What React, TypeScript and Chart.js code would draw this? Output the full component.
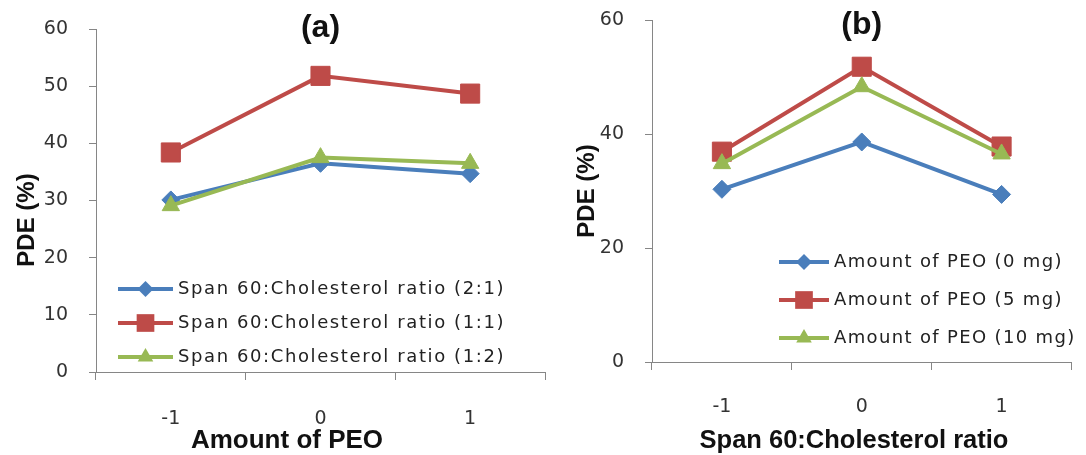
import React, { useEffect, useRef } from 'react';
import { Chart, registerables } from 'chart.js';

Chart.register(...registerables);

// Coded factor levels shared by both panels
const levels = ['-1', '0', '1'];

// Panel (a): PDE (%) against amount of PEO, one line per Span 60:cholesterol ratio
const ratioNames = [
  'Span 60:Cholesterol ratio (2:1)',
  'Span 60:Cholesterol ratio (1:1)',
  'Span 60:Cholesterol ratio (1:2)',
];
const pdeRatio21 = [30.1, 36.5, 34.7];
const pdeRatio11 = [38.4, 51.8, 48.7];
const pdeRatio12 = [29.1, 37.5, 36.5];

// Panel (b): PDE (%) against Span 60:cholesterol ratio, one line per amount of PEO
const peoNames = ['Amount of PEO (0 mg)', 'Amount of PEO (5 mg)', 'Amount of PEO (10 mg)'];
const pdePeo0 = [30.3, 38.6, 29.4];
const pdePeo5 = [36.9, 51.8, 37.8];
const pdePeo10 = [34.8, 48.3, 36.5];

const colors = ['#4a7ebb', '#be4b48', '#98b954'];
const markers = ['rectRot', 'rect', 'triangle'];
const markerRadius = [9, 13.5, 10];

const axisGray = '#868686';
const tickText = '#333333';
const FONT = '"DejaVu Sans", sans-serif';
const BOLD = '"Liberation Sans", Arial, sans-serif';
const CANVAS_H = 455;

interface PanelSpec {
  canvasLeft: number;
  canvasWidth: number;
  area: { left: number; top: number; right: number; bottom: number };
  yMax: number;
  yStep: number;
  xTickPad: number;
  names: string[];
  data: number[][];
  letter: string;
  letterY: number;
  xTitle: string;
  xTitleX: number;
  xTitleY: number;
  xTitleSize: number;
  yTitleX: number;
  yTitleY: number;
  legend: { x1: number; x2: number; textX: number; rows: number[]; spacing: number };
}

function drawMarker(ctx: CanvasRenderingContext2D, style: string, x: number, y: number, r: number, color: string) {
  ctx.beginPath();
  if (style === 'rect') {
    const s = Math.SQRT1_2 * r;
    ctx.rect(x - s, y - s, 2 * s, 2 * s);
  } else if (style === 'rectRot') {
    ctx.moveTo(x - r, y);
    ctx.lineTo(x, y - r);
    ctx.lineTo(x + r, y);
    ctx.lineTo(x, y + r);
    ctx.closePath();
  } else {
    let a = 0;
    ctx.moveTo(x + Math.sin(a) * r, y - Math.cos(a) * r);
    a += (2 * Math.PI) / 3;
    ctx.lineTo(x + Math.sin(a) * r, y - Math.cos(a) * r);
    a += (2 * Math.PI) / 3;
    ctx.lineTo(x + Math.sin(a) * r, y - Math.cos(a) * r);
    ctx.closePath();
  }
  ctx.fillStyle = color;
  ctx.fill();
}

function decorPlugin(spec: PanelSpec) {
  return {
    id: 'panelDecor',
    afterDraw(chart: any) {
      const ctx: CanvasRenderingContext2D = chart.ctx;
      const area = chart.chartArea;

      // Legend drawn inside the plot area
      ctx.save();
      spec.names.forEach((name, i) => {
        const y = spec.legend.rows[i];
        ctx.strokeStyle = colors[i];
        ctx.lineWidth = 4;
        ctx.beginPath();
        ctx.moveTo(spec.legend.x1, y);
        ctx.lineTo(spec.legend.x2, y);
        ctx.stroke();
        const r = markers[i] === 'rectRot' ? 8 : markerRadius[i] - 1;
        drawMarker(ctx, markers[i], (spec.legend.x1 + spec.legend.x2) / 2, y, r, colors[i]);
        ctx.fillStyle = '#222222';
        ctx.font = `18px ${FONT}`;
        (ctx as any).letterSpacing = `${spec.legend.spacing}px`;
        ctx.textAlign = 'left';
        ctx.textBaseline = 'middle';
        ctx.fillText(name, spec.legend.textX, y);
      });
      ctx.restore();

      // Panel letter and axis titles
      ctx.save();
      ctx.fillStyle = '#111111';
      ctx.textAlign = 'center';
      ctx.textBaseline = 'middle';
      ctx.font = `bold 32px ${BOLD}`;
      ctx.fillText(spec.letter, (area.left + area.right) / 2, spec.letterY);
      ctx.font = `bold ${spec.xTitleSize}px ${BOLD}`;
      ctx.fillText(spec.xTitle, spec.xTitleX, spec.xTitleY);
      ctx.font = `bold 24px ${BOLD}`;
      ctx.translate(spec.yTitleX, spec.yTitleY);
      ctx.rotate(-Math.PI / 2);
      ctx.fillText('PDE (%)', 0, 0);
      ctx.restore();
    },
  };
}

function Panel({ spec }: { spec: PanelSpec }) {
  const ref = useRef<HTMLCanvasElement | null>(null);

  useEffect(() => {
    if (!ref.current) return;
    const chart = new Chart(ref.current, {
      type: 'line',
      data: {
        labels: levels,
        datasets: spec.data.map((vals, i) => ({
          label: spec.names[i],
          data: vals,
          borderColor: colors[i],
          backgroundColor: colors[i],
          borderWidth: 4,
          pointStyle: markers[i] as any,
          pointRadius: markerRadius[i],
          pointBorderColor: colors[i],
          pointBackgroundColor: colors[i],
          pointBorderWidth: 1,
          tension: 0,
          order: 3 - i,
          clip: false as any,
        })),
      },
      options: {
        responsive: false,
        animation: false,
        events: [],
        layout: {
          padding: { left: 0, top: spec.area.top, right: spec.canvasWidth - spec.area.right, bottom: 0 },
        },
        plugins: {
          legend: { display: false },
          tooltip: { enabled: false },
          title: { display: false },
        },
        scales: {
          x: {
            type: 'category',
            offset: true,
            grid: { offset: true, drawOnChartArea: false, tickLength: 8, color: axisGray, lineWidth: 1 },
            border: { color: axisGray, width: 1 },
            ticks: { color: tickText, font: { family: FONT, size: 19 }, padding: spec.xTickPad, maxRotation: 0 },
            afterFit: (s: any) => {
              s.height = CANVAS_H - spec.area.bottom;
              s.paddingLeft = 0;
              s.paddingRight = 0;
            },
          },
          y: {
            type: 'linear',
            min: 0,
            max: spec.yMax,
            ticks: { stepSize: spec.yStep, color: tickText, font: { family: FONT, size: 19 }, padding: 21 },
            grid: { drawOnChartArea: false, tickLength: 7, color: axisGray, lineWidth: 1 },
            border: { color: axisGray, width: 1 },
            afterFit: (s: any) => {
              s.width = spec.area.left;
              s.paddingTop = 0;
              s.paddingBottom = 0;
            },
          },
        },
      } as any,
      plugins: [decorPlugin(spec)],
    });
    return () => chart.destroy();
  }, [spec]);

  return (
    <canvas
      ref={ref}
      width={spec.canvasWidth}
      height={CANVAS_H}
      style={{ position: 'absolute', left: spec.canvasLeft, top: 0, width: spec.canvasWidth, height: CANVAS_H }}
    />
  );
}

const panelA: PanelSpec = {
  canvasLeft: 0,
  canvasWidth: 560,
  area: { left: 96, top: 29, right: 545, bottom: 372 },
  yMax: 60,
  yStep: 10,
  xTickPad: 28,
  names: ratioNames,
  data: [pdeRatio21, pdeRatio11, pdeRatio12],
  letter: '(a)',
  letterY: 28,
  xTitle: 'Amount of PEO',
  xTitleX: 287,
  xTitleY: 441,
  xTitleSize: 26,
  yTitleX: 27,
  yTitleY: 220,
  legend: { x1: 118, x2: 173, textX: 178, rows: [289, 323, 357], spacing: 1.6 },
};

const panelB: PanelSpec = {
  canvasLeft: 560,
  canvasWidth: 526,
  area: { left: 92, top: 20, right: 526, bottom: 362 },
  yMax: 60,
  yStep: 20,
  xTickPad: 26,
  names: peoNames,
  data: [pdePeo0, pdePeo5, pdePeo10],
  letter: '(b)',
  letterY: 25,
  xTitle: 'Span 60:Cholesterol ratio',
  xTitleX: 294,
  xTitleY: 441,
  xTitleSize: 25.5,
  yTitleX: 27,
  yTitleY: 191,
  legend: { x1: 779, x2: 829, textX: 834, rows: [262, 300, 338], spacing: 1.35 },
};
panelB.legend = {
  ...panelB.legend,
  x1: panelB.legend.x1 - panelB.canvasLeft,
  x2: panelB.legend.x2 - panelB.canvasLeft,
  textX: panelB.legend.textX - panelB.canvasLeft,
};

export default function App() {
  return (
    <div style={{ position: 'absolute', left: 0, top: 0, width: 1086, height: CANVAS_H, background: '#ffffff' }}>
      <Panel spec={panelA} />
      <Panel spec={panelB} />
    </div>
  );
}
